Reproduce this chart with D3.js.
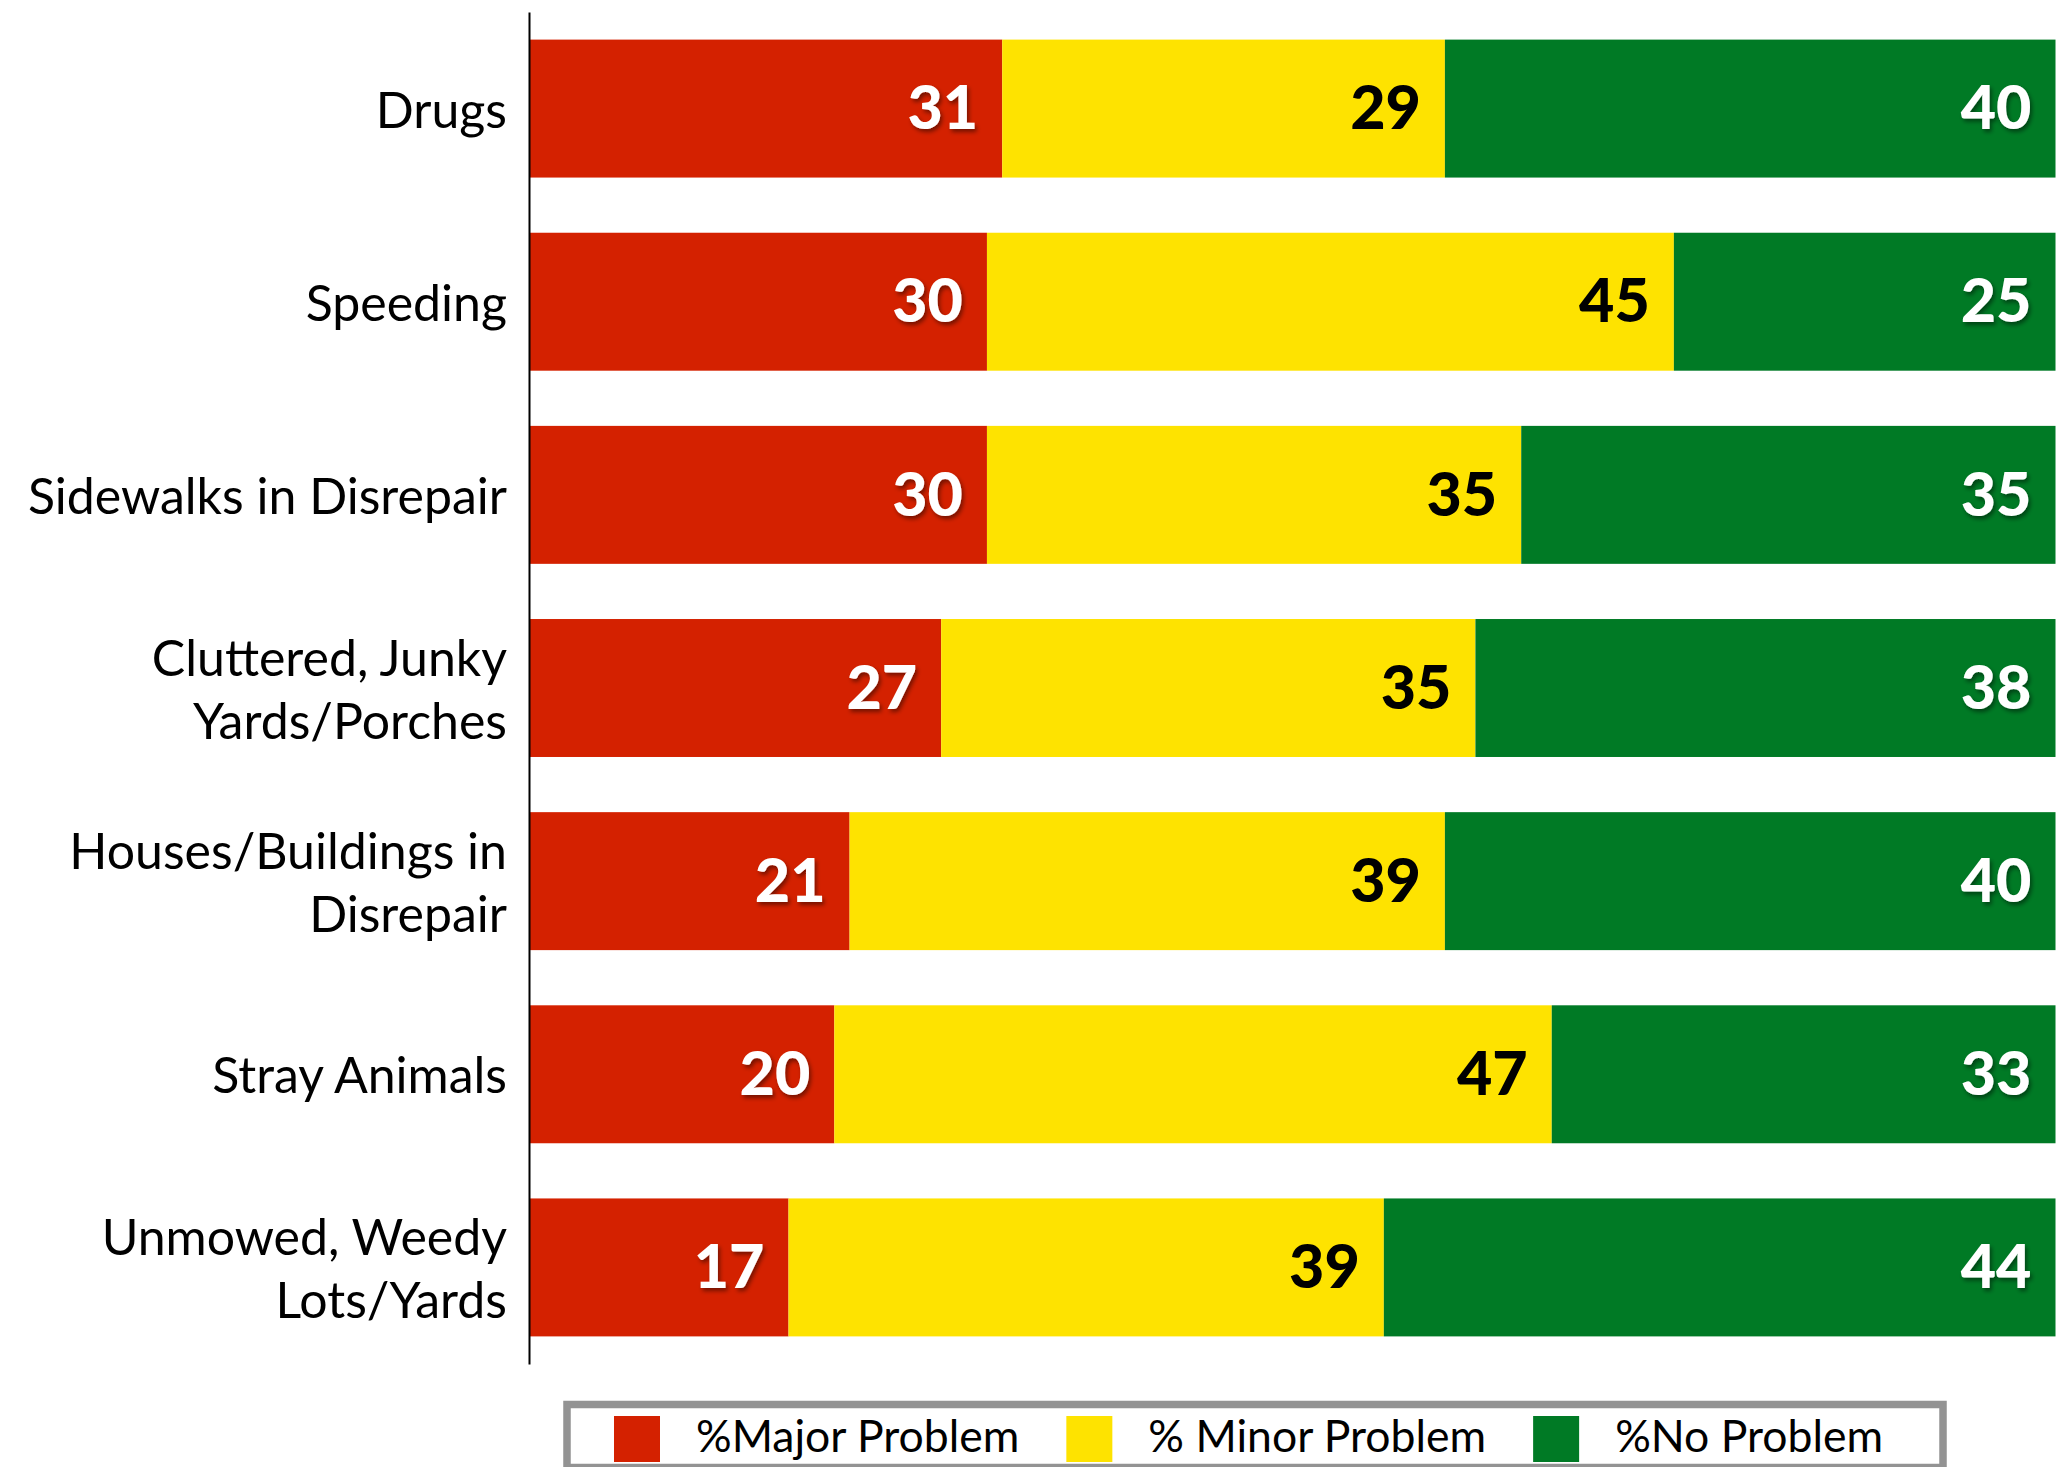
<!DOCTYPE html>
<html>
<head>
<meta charset="utf-8">
<script src="https://cdn.jsdelivr.net/npm/d3@7"></script>
<style>
  body { margin: 0; background: #fff; }
  svg { display: block; font-family: Lato, "Open Sans", sans-serif; }
</style>
</head>
<body>
<svg id="chart"></svg>
<script>
// categories (multi-line labels as arrays)
const categories = [
  ["Drugs"],
  ["Speeding"],
  ["Sidewalks in Disrepair"],
  ["Cluttered, Junky", "Yards/Porches"],
  ["Houses/Buildings in", "Disrepair"],
  ["Stray Animals"],
  ["Unmowed, Weedy", "Lots/Yards"],
];
const seriesNames = ["%Major Problem", "% Minor Problem", "%No Problem"];
const majorProblem = [31, 30, 30, 27, 21, 20, 17];
const minorProblem = [29, 45, 35, 35, 39, 47, 39];
const noProblem = [40, 25, 35, 38, 40, 33, 44];

const colors = ["#D42100", "#FEE300", "#007A25"];
const labelColors = ["#fff", "#000", "#fff"];

const W = 2068, H = 1467;
const svg = d3.select("#chart").attr("width", W).attr("height", H);

const defs = svg.append("defs");
defs.append("filter")
  .attr("id", "shadow")
  .attr("x", "-20%").attr("y", "-20%")
  .attr("width", "140%").attr("height", "140%")
  .append("feDropShadow")
  .attr("dx", 2).attr("dy", 3)
  .attr("stdDeviation", 2)
  .attr("flood-color", "#000")
  .attr("flood-opacity", 0.45);

const rows = categories.map((c, i) => ({
  idx: i,
  major: majorProblem[i],
  minor: minorProblem[i],
  none: noProblem[i],
}));
const keys = ["major", "minor", "none"];
const stacked = d3.stack().keys(keys)(rows);

const x = d3.scaleLinear().domain([0, 100]).range([529, 2055.5]);
const y = d3.scaleBand()
  .domain(d3.range(categories.length))
  .range([12, 1364])
  .paddingInner(0.2857)
  .paddingOuter(0.1429);

// bars
const layers = svg.append("g")
  .selectAll("g")
  .data(stacked)
  .join("g")
  .attr("fill", (d, i) => colors[i]);

layers.selectAll("rect")
  .data((d) => d)
  .join("rect")
  .attr("x", (d) => x(d[0]))
  .attr("y", (d) => y(d.data.idx))
  .attr("width", (d) => x(d[1]) - x(d[0]))
  .attr("height", y.bandwidth());

// value labels
const valueSize = 61;
stacked.forEach((layer, li) => {
  svg.append("g")
    .selectAll("text")
    .data(layer)
    .join("text")
    .attr("x", (d) => x(d[1]) - 24)
    .attr("y", (d) => y(d.data.idx) + y.bandwidth() / 2 + valueSize * 0.34)
    .attr("text-anchor", "end")
    .attr("font-size", valueSize)
    .attr("font-weight", 900)
    .attr("fill", labelColors[li])
    .attr("filter", labelColors[li] === "#fff" ? "url(#shadow)" : null)
    .text((d) => d[1] - d[0]);
});

// axis line
svg.append("g")
  .attr("transform", `translate(${x(0)},0)`)
  .call(d3.axisLeft(y).tickSize(0).tickSizeOuter(0).tickFormat(""))
  .call((g) => g.select(".domain").attr("stroke", "#000").attr("stroke-width", 2));

// category labels
const catSize = 50;
const lineGap = 63;
const catG = svg.append("g");
categories.forEach((lines, i) => {
  const cy = y(i) + y.bandwidth() / 2;
  const first = cy - ((lines.length - 1) * lineGap) / 2 + catSize * 0.38;
  const t = catG.append("text")
    .attr("text-anchor", "end")
    .attr("font-size", catSize)
    .attr("fill", "#000");
  lines.forEach((ln, k) => {
    t.append("tspan")
      .attr("x", x(0) - 22)
      .attr("y", first + k * lineGap)
      .text(ln);
  });
});

// legend
const legend = svg.append("g");
legend.append("rect")
  .attr("x", 567).attr("y", 1404.5)
  .attr("width", 1376).attr("height", 63)
  .attr("fill", "#fff")
  .attr("stroke", "#939393")
  .attr("stroke-width", 7.5);

let lx = 614;
seriesNames.forEach((name, i) => {
  legend.append("rect")
    .attr("x", lx).attr("y", 1416)
    .attr("width", 46).attr("height", 46)
    .attr("fill", colors[i]);
  const t = legend.append("text")
    .attr("x", lx + 82)
    .attr("y", 1452)
    .attr("font-size", 44.5)
    .attr("fill", "#000")
    .text(name);
  lx += 82 + t.node().getComputedTextLength() + 47;
});
</script>
</body>
</html>
